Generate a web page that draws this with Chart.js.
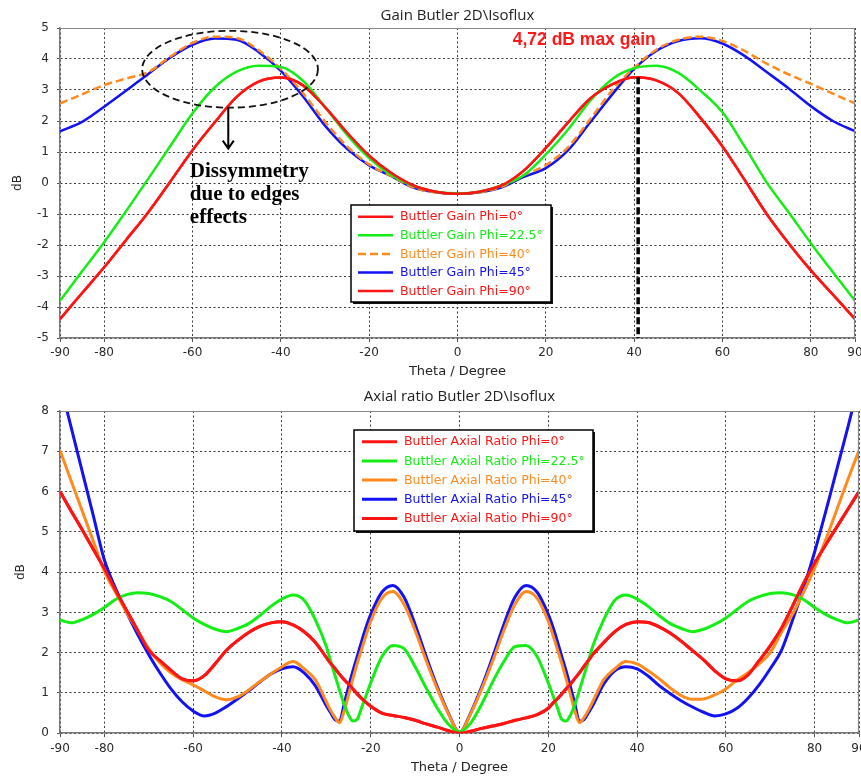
<!DOCTYPE html>
<html><head><meta charset="utf-8">
<script src="https://cdn.jsdelivr.net/npm/chart.js@4.4.1/dist/chart.umd.min.js"></script>
<style>
html,body{margin:0;padding:0;background:#fff;}
#wrap{position:relative;width:861px;height:777px;overflow:hidden;background:#fff;}
canvas{position:absolute;left:0;}
</style></head><body>
<div id="wrap">
<canvas id="gain" width="861" height="385" style="top:0"></canvas>
<canvas id="ar" width="861" height="392" style="top:385px"></canvas>
</div>
<script>
// ---------- data ----------
const thetaTicks = [-90, -80, -60, -40, -20, 0, 20, 40, 60, 80, 90];

const gainTheta = [-90,-85,-80,-75,-70,-65,-60,-55,-50,-45,-40,-35,-30,-25,-20,-15,-10,-5,0,5,10,15,20,25,30,35,40,45,50,55,60,65,70,75,80,85,90];
const gainPhi0   = [-4.39,-3.55,-2.72,-1.83,-0.94,0.05,1.06,1.95,2.78,3.27,3.40,3.15,2.45,1.62,0.88,0.32,-0.08,-0.28,-0.35,-0.28,-0.08,0.40,1.13,1.95,2.72,3.18,3.41,3.31,2.90,2.10,1.18,0.10,-1.00,-1.95,-2.82,-3.60,-4.39];
const gainPhi225 = [-3.80,-2.85,-1.91,-0.90,0.14,1.20,2.25,3.08,3.59,3.78,3.74,3.30,2.45,1.55,0.80,0.25,-0.10,-0.28,-0.33,-0.28,-0.08,0.25,0.92,1.72,2.65,3.35,3.70,3.78,3.55,2.98,2.28,1.18,0.02,-0.95,-1.94,-2.88,-3.80];
const gainPhi40  = [2.57,2.86,3.16,3.37,3.58,4.08,4.52,4.72,4.68,4.28,3.68,2.90,1.98,1.18,0.60,0.22,-0.14,-0.30,-0.35,-0.30,-0.12,0.25,0.58,1.15,2.05,2.98,3.72,4.30,4.62,4.72,4.58,4.26,3.85,3.50,3.20,2.88,2.57];
const gainPhi45  = [1.67,1.97,2.46,2.98,3.52,4.05,4.46,4.66,4.62,4.22,3.62,2.80,1.85,1.10,0.57,0.22,-0.15,-0.30,-0.35,-0.30,-0.14,0.20,0.48,1.05,1.95,2.85,3.68,4.26,4.58,4.67,4.50,4.10,3.58,3.05,2.48,2.00,1.67];
const gainPhi90  = [-4.39,-3.55,-2.72,-1.83,-0.94,0.05,1.06,1.95,2.78,3.27,3.40,3.15,2.45,1.62,0.88,0.32,-0.08,-0.28,-0.35,-0.28,-0.08,0.40,1.13,1.95,2.72,3.18,3.41,3.31,2.90,2.10,1.18,0.10,-1.00,-1.95,-2.82,-3.60,-4.39];

const arTheta = [-90,-87.5,-85,-82.5,-80,-77.5,-75,-72.5,-70,-67.5,-65,-62.5,-60,-57.5,-55,-52.5,-50,-47.5,-45,-42.5,-40,-37.5,-35,-32.5,
  -30,-29,-28,-27,-26,-25,-24,-23,-22,-21,-20,
  -17.5,-15,-12.5,-10,-7.5,-5,-2.5,0,2.5,5,7.5,10,12.5,15,17.5,
  20,21,22,23,24,25,26,27,28,29,30,
  32.5,35,37.5,40,42.5,45,47.5,50,52.5,55,57.5,60,62.5,65,67.5,70,72.5,75,77.5,80,82.5,85,87.5,90];
const arPhi0 = [6.0,5.52,5.05,4.57,4.08,3.55,3.05,2.55,2.06,1.8,1.56,1.35,1.3,1.43,1.73,2.06,2.3,2.5,2.65,2.74,2.77,2.69,2.52,2.26,
  1.88,1.73,1.6,1.46,1.33,1.22,1.1,0.97,0.86,0.76,0.67,
  0.5,0.44,0.39,0.32,0.23,0.15,0.06,0.0,0.05,0.12,0.18,0.24,0.32,0.38,0.46,
  0.62,0.74,0.85,0.97,1.1,1.22,1.36,1.5,1.65,1.8,1.95,
  2.25,2.52,2.7,2.77,2.75,2.64,2.48,2.28,2.05,1.82,1.55,1.35,1.3,1.45,1.8,2.17,2.6,3.15,3.72,4.22,4.68,5.12,5.56,6.0];
const arPhi225 = [2.81,2.74,2.82,2.95,3.12,3.32,3.44,3.49,3.47,3.39,3.27,3.07,2.86,2.7,2.58,2.52,2.6,2.72,2.92,3.15,3.33,3.43,3.3,2.82,
  2.15,1.78,1.42,1.06,0.72,0.45,0.3,0.35,0.65,0.95,1.25,
  1.9,2.18,2.1,1.65,1.12,0.62,0.22,0.03,0.25,0.72,1.28,1.78,2.15,2.18,1.9,
  1.25,0.95,0.65,0.35,0.3,0.45,0.72,1.06,1.42,1.78,2.15,
  2.82,3.3,3.43,3.33,3.15,2.92,2.72,2.6,2.52,2.58,2.7,2.86,3.07,3.27,3.39,3.47,3.49,3.44,3.32,3.12,2.95,2.82,2.74,2.81];
const arPhi40 = [7.02,6.27,5.52,4.77,4.02,3.5,3.0,2.55,2.1,1.75,1.5,1.33,1.2,1.05,0.9,0.83,0.9,1.07,1.28,1.47,1.65,1.78,1.6,1.33,
  0.78,0.56,0.38,0.26,0.55,0.95,1.36,1.75,2.1,2.45,2.78,
  3.35,3.52,3.2,2.55,1.8,1.1,0.48,0.02,0.48,1.1,1.8,2.55,3.2,3.52,3.35,
  2.78,2.45,2.1,1.75,1.36,0.95,0.55,0.26,0.38,0.56,0.78,
  1.33,1.6,1.78,1.72,1.55,1.35,1.12,0.93,0.84,0.85,0.95,1.1,1.32,1.5,1.72,2.0,2.5,2.95,3.5,4.1,4.8,5.55,6.3,7.02];
const arPhi45 = [8.7,7.6,6.5,5.4,4.3,3.6,3.0,2.45,1.95,1.5,1.1,0.78,0.55,0.43,0.5,0.66,0.85,1.05,1.27,1.47,1.6,1.65,1.5,1.18,
  0.68,0.5,0.33,0.3,0.72,1.15,1.55,1.92,2.3,2.65,2.95,
  3.5,3.67,3.38,2.7,1.9,1.15,0.5,0.02,0.5,1.15,1.9,2.7,3.38,3.67,3.5,
  2.95,2.65,2.3,1.92,1.55,1.15,0.72,0.3,0.33,0.5,0.68,
  1.22,1.55,1.65,1.6,1.42,1.18,0.98,0.8,0.65,0.52,0.43,0.48,0.62,0.87,1.2,1.6,2.05,2.8,3.6,4.5,5.5,6.55,7.6,8.7];
const arPhi90 = arPhi0.slice();

// annotation anchors (data units)
const ellipseCenter = [-51.5, 3.67];
const ellipseRadius = [19.9, 1.24];
const arrowX = -51.9, arrowFrom = 2.43, arrowTo = 1.11;
const noteAnchor = [-60.6, 0.19];
const noteLines = ['Dissymmetry', 'due to edges', 'effects'];
const maxGainText = '4,72 dB max gain';
const maxGainAnchor = [12.5, 4.46];
const markerX = 40.9, markerTop = 3.41;

// ---------- styling ----------
const C_RED = '#ff1414', C_GREEN = '#14ee14', C_ORANGE = '#ff8a1e', C_BLUE = '#1212f5';
const TICK_FONT = {family: 'DejaVu Sans', size: 12};

function ds(label, theta, vals, color, width, dash) {
  return {label, data: theta.map((t, i) => ({x: t, y: vals[i]})), borderColor: color, backgroundColor: color,
    borderWidth: width, borderDash: dash || [], pointRadius: 0, cubicInterpolationMode: 'monotone', fill: false};
}

function xScale(axisHeight, titlePadBottom) {
  return {
    type: 'linear', min: -90, max: 90,
    afterBuildTicks: s => { s.ticks = thetaTicks.map(v => ({value: v})); },
    afterFit: s => { s.height = axisHeight; s.paddingLeft = 0; s.paddingRight = 0; },
    ticks: {autoSkip: false, maxRotation: 0, padding: 4, color: '#2a2a2a', font: TICK_FONT},
    grid: {color: '#3a3a3a', lineWidth: 1, tickLength: 4, tickColor: '#555', tickWidth: 1, tickBorderDash: []},
    border: {display: true, color: '#777', width: 1.5, dash: [2, 2.5]},
    title: {display: true, text: 'Theta / Degree', color: '#222', font: {family: 'DejaVu Sans', size: 13},
      padding: {top: 0, bottom: titlePadBottom}}
  };
}
function yScale(min, max, titlePadTop) {
  return {
    min, max,
    afterFit: s => { s.width = 60; s.paddingTop = 0; s.paddingBottom = 0; },
    ticks: {stepSize: 1, padding: 8, color: '#2a2a2a', font: TICK_FONT},
    grid: {color: '#3a3a3a', lineWidth: 1, tickLength: 3, tickColor: '#555', tickWidth: 1, tickBorderDash: []},
    border: {display: true, color: '#777', width: 1.5, dash: [2, 2.5]},
    title: {display: true, text: 'dB', color: '#222', font: {family: 'DejaVu Sans', size: 12},
      padding: {top: titlePadTop, bottom: 0}}
  };
}

function drawLegend(chart, spec) {
  const {ctx, chartArea: a} = chart;
  const x = a.left + spec.dx, y = a.top + spec.dy;
  ctx.save();
  ctx.fillStyle = '#111';
  ctx.fillRect(x + 2, y + 2, spec.w, spec.h);
  ctx.fillStyle = '#fff';
  ctx.fillRect(x, y, spec.w, spec.h);
  ctx.strokeStyle = '#000'; ctx.lineWidth = 1.5;
  ctx.strokeRect(x, y, spec.w, spec.h);
  ctx.font = '12.5px "DejaVu Sans"';
  ctx.textBaseline = 'middle'; ctx.textAlign = 'left';
  chart.data.datasets.forEach((d, i) => {
    const ry = y + spec.first + i * spec.row;
    ctx.strokeStyle = d.borderColor; ctx.lineWidth = spec.lw;
    ctx.setLineDash(d.borderDash || []);
    ctx.beginPath(); ctx.moveTo(x + spec.l1, ry); ctx.lineTo(x + spec.l2, ry); ctx.stroke();
    ctx.setLineDash([]);
    ctx.fillStyle = d.borderColor;
    ctx.fillText(d.label, x + spec.tx, ry + 0.5);
  });
  ctx.restore();
}
function drawFrame(chart) {
  const {ctx, chartArea: a} = chart;
  ctx.save();
  ctx.strokeStyle = '#888'; ctx.lineWidth = 1.2;
  ctx.beginPath();
  ctx.moveTo(a.left, a.top + 0.5); ctx.lineTo(a.right - 0.5, a.top + 0.5); ctx.lineTo(a.right - 0.5, a.bottom);
  ctx.stroke();
  ctx.restore();
}
function makeOverlay(id, legendSpec, notes) {
  return {
    id,
    afterDatasetsDraw(chart) { if (notes) notes(chart); },
    afterDraw(chart) { drawFrame(chart); drawLegend(chart, legendSpec); }
  };
}

function gainNotes(chart) {
  const {ctx, scales: {x, y}} = chart;
  ctx.save();
  // ellipse
  const cx = x.getPixelForValue(ellipseCenter[0]), cy = y.getPixelForValue(ellipseCenter[1]);
  const rx = Math.abs(x.getPixelForValue(ellipseCenter[0] + ellipseRadius[0]) - cx);
  const ry = Math.abs(y.getPixelForValue(ellipseCenter[1] + ellipseRadius[1]) - cy);
  ctx.strokeStyle = '#111'; ctx.lineWidth = 1.8; ctx.setLineDash([7, 4]);
  ctx.beginPath(); ctx.ellipse(cx, cy, rx, ry, 0, 0, Math.PI * 2); ctx.stroke();
  // arrow
  ctx.setLineDash([]);
  const ax = x.getPixelForValue(arrowX), ay1 = y.getPixelForValue(arrowFrom), ay2 = y.getPixelForValue(arrowTo);
  ctx.lineWidth = 2; ctx.strokeStyle = '#000';
  ctx.beginPath(); ctx.moveTo(ax, ay1); ctx.lineTo(ax, ay2);
  ctx.moveTo(ax - 5.5, ay2 - 8); ctx.lineTo(ax, ay2); ctx.lineTo(ax + 5.5, ay2 - 8); ctx.stroke();
  // note text
  ctx.fillStyle = '#000'; ctx.font = 'bold 21px "Liberation Serif"'; ctx.textBaseline = 'alphabetic'; ctx.textAlign = 'left';
  const nx = x.getPixelForValue(noteAnchor[0]), ny = y.getPixelForValue(noteAnchor[1]);
  noteLines.forEach((t, i) => ctx.fillText(t, nx, ny + i * 23));
  // max gain label
  ctx.fillStyle = '#ff1a1a'; ctx.font = 'bold 17.5px "Liberation Sans"';
  ctx.fillText(maxGainText, x.getPixelForValue(maxGainAnchor[0]), y.getPixelForValue(maxGainAnchor[1]));
  // vertical marker
  const mx = x.getPixelForValue(markerX);
  ctx.strokeStyle = '#000'; ctx.lineWidth = 3.5; ctx.setLineDash([7, 3]);
  ctx.beginPath(); ctx.moveTo(mx, y.getPixelForValue(markerTop)); ctx.lineTo(mx, chart.chartArea.bottom); ctx.stroke();
  ctx.restore();
}

const baseOpts = {responsive: false, animation: false, devicePixelRatio: 1, events: []};

new Chart(document.getElementById('gain'), {
  type: 'line',
  data: {datasets: [
    ds('Buttler Gain Phi=0\u00b0', gainTheta, gainPhi0, C_RED, 2.5),
    ds('Buttler Gain Phi=22.5\u00b0', gainTheta, gainPhi225, C_GREEN, 2.5),
    ds('Buttler Gain Phi=40\u00b0', gainTheta, gainPhi40, C_ORANGE, 2.5, [8, 4]),
    ds('Buttler Gain Phi=45\u00b0', gainTheta, gainPhi45, C_BLUE, 2.5),
    ds('Buttler Gain Phi=90\u00b0', gainTheta, gainPhi90, C_RED, 2.5)
  ]},
  options: Object.assign({}, baseOpts, {
    layout: {padding: {left: 0, right: 6, top: 0, bottom: 0}},
    plugins: {
      legend: {display: false}, tooltip: {enabled: false},
      title: {display: true, text: 'Gain Butler 2D\\Isoflux', color: '#222', fullSize: false,
        font: {family: 'Open Sans', size: 15, weight: 'normal', lineHeight: 1.1}, padding: {top: 7.5, bottom: 4}}
    },
    scales: {x: xScale(47, 5.2), y: yScale(-5, 5, 11)}
  }),
  plugins: [makeOverlay('gainOverlay', {dx: 291, dy: 177, w: 200, h: 97, first: 11.7, row: 18.6, l1: 7, l2: 42, tx: 49, lw: 2.5}, gainNotes)]
});

new Chart(document.getElementById('ar'), {
  type: 'line',
  data: {datasets: [
    ds('Buttler Axial Ratio Phi=0\u00b0', arTheta, arPhi0, C_RED, 3),
    ds('Buttler Axial Ratio Phi=22.5\u00b0', arTheta, arPhi225, C_GREEN, 3),
    ds('Buttler Axial Ratio Phi=40\u00b0', arTheta, arPhi40, C_ORANGE, 3),
    ds('Buttler Axial Ratio Phi=45\u00b0', arTheta, arPhi45, C_BLUE, 3),
    ds('Buttler Axial Ratio Phi=90\u00b0', arTheta, arPhi90, C_RED, 3)
  ]},
  options: Object.assign({}, baseOpts, {
    layout: {padding: {left: 0, right: 2, top: 0, bottom: 0}},
    plugins: {
      legend: {display: false}, tooltip: {enabled: false},
      title: {display: true, text: 'Axial ratio Butler 2D\\Isoflux', color: '#222', fullSize: false,
        font: {family: 'Open Sans', size: 15, weight: 'normal', lineHeight: 1.1}, padding: {top: 3.7, bottom: 5.8}}
    },
    scales: {x: xScale(43.8, 1.2), y: yScale(0, 8, 14)}
  }),
  plugins: [makeOverlay('arOverlay', {dx: 294, dy: 19, w: 239, h: 101, first: 11.7, row: 19.2, l1: 8, l2: 43, tx: 50, lw: 3}, null)]
});
</script>
</body></html>
